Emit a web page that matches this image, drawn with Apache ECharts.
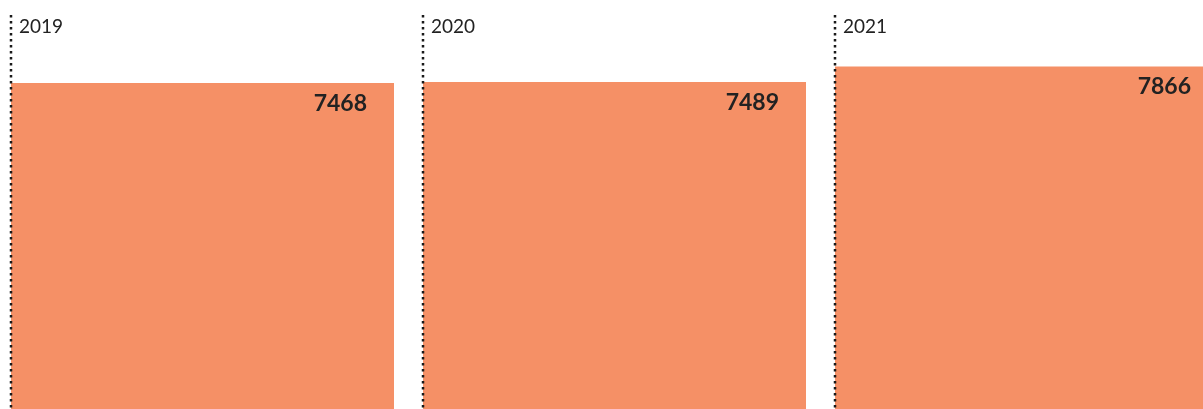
<!DOCTYPE html>
<html>
<head>
<meta charset="utf-8">
<style>
  html, body { margin: 0; padding: 0; background: #ffffff; overflow: hidden; }
  #chart { width: 1240px; height: 409px; position: absolute; left: -4px; top: 0; }
</style>
<script src="https://cdn.jsdelivr.net/npm/echarts@6/dist/echarts.min.js"></script>
</head>
<body>
<div id="chart"></div>
<script>
const categories = ['2019', '2020', '2021'];
const values = [7468, 7489, 7866];

const BAR_WIDTH = 383;
const BAR_COLOR = '#F59066';
const TEXT_COLOR = '#222222';
const FONT = 'Lato, "Open Sans", sans-serif';

const chart = echarts.init(document.getElementById('chart'), null, { renderer: 'canvas' });

chart.setOption({
  animation: false,
  backgroundColor: '#ffffff',
  grid: { left: 0.5, width: 1236, top: 0, bottom: 0, containLabel: false },
  xAxis: {
    type: 'category',
    data: categories,
    show: false
  },
  yAxis: {
    type: 'value',
    min: -400,
    max: 9470,
    startValue: -400,
    show: false
  },
  series: [
    {
      type: 'bar',
      data: values,
      barWidth: BAR_WIDTH,
      clip: false,
      itemStyle: { color: BAR_COLOR },
      label: {
        show: true,
        position: 'insideTopRight',
        distance: 0,
        padding: [9, 27, 0, 0],
        fontFamily: FONT,
        fontSize: 23,
        fontWeight: 'bold',
        lineHeight: 23,
        color: TEXT_COLOR
      },
      z: 2
    },
    {
      type: 'custom',
      data: values.map((v, i) => [i, v]),
      z: 5,
      clip: false,
      renderItem: function (params, api) {
        const idx = api.value(0);
        const center = api.coord([idx, 0]);
        const x = Math.round(center[0] - BAR_WIDTH / 2);
        const bottom = params.coordSys.y + params.coordSys.height;
        return {
          type: 'group',
          children: [
            {
              type: 'line',
              shape: { x1: x, y1: 15, x2: x, y2: bottom + 5 },
              style: { stroke: '#1a1a1a', lineWidth: 2.5, lineDash: [2.5, 3.5] }
            },
            {
              type: 'text',
              x: x + 8,
              y: 27,
              style: {
                text: categories[idx],
                fontFamily: FONT,
                fontSize: 19,
                fontWeight: 'normal',
                fill: TEXT_COLOR,
                textAlign: 'left',
                textVerticalAlign: 'middle'
              }
            }
          ]
        };
      }
    }
  ]
});
</script>
</body>
</html>
